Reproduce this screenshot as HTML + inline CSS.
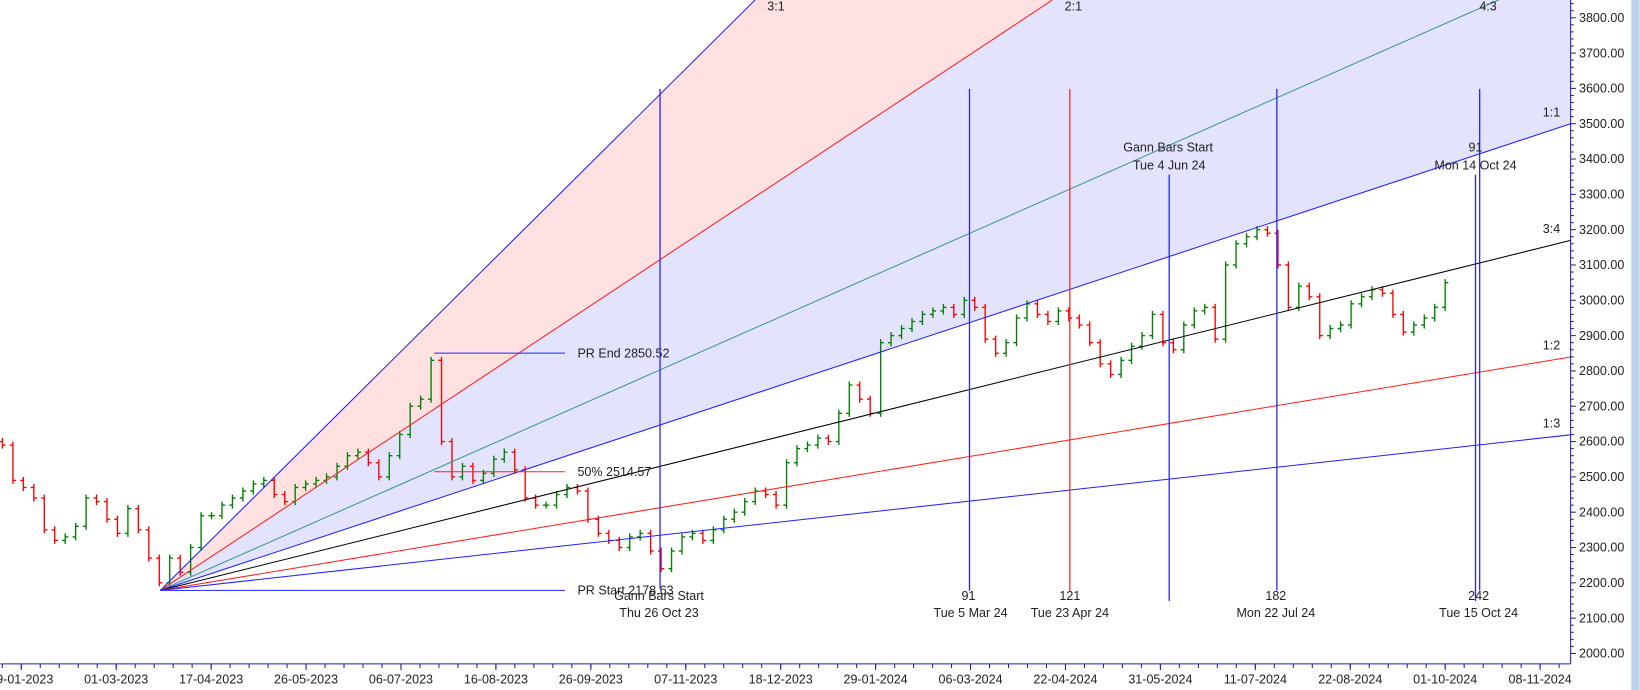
<!DOCTYPE html>
<html><head><meta charset="utf-8"><style>
html,body{margin:0;padding:0;background:#fff;}
svg{display:block;font-family:"Liberation Sans",sans-serif;}
</style></head><body>
<svg id="chart" width="1640" height="690" viewBox="0 0 1568 660" xmlns="http://www.w3.org/2000/svg">
<g id="fills"></g><g id="grid"></g><g id="bars"></g><g id="over"></g><g id="axes"></g>
</svg>
<script>
const closes=[2590,2490,2470,2440,2350,2320,2330,2360,2440,2430,2380,2340,2410,2350,2270,2200,2270,2230,2300,2390,2390,2420,2440,2460,2480,2490,2450,2430,2470,2480,2490,2500,2530,2560,2570,2540,2500,2560,2620,2700,2720,2830,2600,2500,2530,2490,2510,2550,2570,2520,2440,2420,2420,2450,2470,2460,2380,2340,2320,2300,2330,2340,2290,2240,2290,2330,2340,2320,2350,2380,2400,2430,2460,2450,2420,2540,2580,2590,2610,2600,2680,2760,2720,2680,2880,2900,2920,2940,2960,2970,2980,2960,3000,2980,2890,2850,2880,2950,2990,2960,2940,2970,2950,2930,2880,2820,2790,2830,2870,2900,2960,2880,2860,2930,2970,2980,2890,3100,3160,3180,3200,3190,3100,2980,3040,3010,2900,2920,2930,2990,3010,3030,3020,2960,2910,2930,2950,2980,3050];
const yTicks=[2000,2100,2200,2300,2400,2500,2600,2700,2800,2900,3000,3100,3200,3300,3400,3500,3600,3700,3800];
const dateLabels=["09-01-2023","01-03-2023","17-04-2023","26-05-2023","06-07-2023","16-08-2023","26-09-2023","07-11-2023","18-12-2023","29-01-2024","06-03-2024","22-04-2024","31-05-2024","11-07-2024","22-08-2024","01-10-2024","08-11-2024"];
const fanRatios=[3,2,4/3,1,0.75,0.5,1/3];
const fanNames=["3:1","2:1","4:3","1:1","3:4","1:2","1:3"];
const prStart=2178.63, prEnd=2850.52, prMid=2514.57;

const NS="http://www.w3.org/2000/svg";
const R=1502, B=635;
const yS=v=>17+(3800-v)*0.3378;
const xS=i=>2+i*10;
const dX=k=>20+k*90.8;
const ox=153, unit=(3500-prStart)/(R-ox);
function el(p,t,a){const e=document.createElementNS(NS,t);for(const k in a)e.setAttribute(k,a[k]);p.appendChild(e);return e;}
const G=id=>document.getElementById(id);
function txt(p,x,y,s,anchor,name){const t=el(p,'text',{x:x,y:y,'font-size':12,fill:'#222','text-anchor':anchor||'start'});t.textContent=s;return t;}
// fan geometry
function fanEnd(r){const topP=3800+17/0.3378;const xTop=ox+(topP-prStart)/(r*unit);if(xTop<=R)return [xTop,0];return [R,yS(prStart+r*unit*(R-ox))];}
const oy=yS(prStart);
const e3=fanEnd(3),e2=fanEnd(2),e1=fanEnd(1);
let p=el(G('fills'),'polygon',{points:`${ox},${oy} ${e3[0]},0 ${e2[0]},0`,fill:'#ffe1e1'});

p=el(G('fills'),'polygon',{points:`${ox},${oy} ${e2[0]},0 ${R},0 ${R},${e1[1]}`,fill:'#e3e3fd'});

// bars
closes.forEach((c,i)=>{const o=i?closes[i-1]:c+10;const up=c>=o;const col=up?'#008000':'#ff0000';const x=xS(i);
const hi=Math.max(o,c)+10,lo=Math.min(o,c)-10;
const g=el(G('bars'),'g',{stroke:col,'stroke-width':1.3});

el(g,'line',{x1:x,x2:x,y1:yS(hi),y2:yS(lo)});
el(g,'line',{x1:x-3,x2:x,y1:yS(o),y2:yS(o)});
el(g,'line',{x1:x,x2:x+3,y1:yS(c),y2:yS(c)});});
// fan lines
const fanCols=['#2020ff','#ff2020','#3a9a8a','#2020ff','#000','#ff2020','#2020ff'];
fanRatios.forEach((r,k)=>{const e=fanEnd(r);const l=el(G('over'),'line',{x1:ox,y1:oy,x2:e[0],y2:e[1],stroke:fanCols[k],'stroke-width':1});

if(e[0]<R)txt(G('over'),e[0]+(k==2?-10:20),10,fanNames[k],'middle','fan-label');else txt(G('over'),R-10,e[1]-7,fanNames[k],'end','fan-label');});
const O=G('over');
function hl(y,x1,x2,c,n){const l=el(O,'line',{x1:x1,x2:x2,y1:y,y2:y,stroke:c,'stroke-width':1});}
hl(oy,ox,540,'#2020ff','pr-start-line');txt(O,552,oy+4,'PR Start '+prStart,'start','pr-start-label');
hl(yS(prEnd),415,540,'#2020ff','pr-end-line');txt(O,552,yS(prEnd)+4,'PR End '+prEnd,'start','pr-end-label');
hl(yS(prMid),415,540,'#ff2020','mid-line');txt(O,552,yS(prMid)+4,'50% '+prMid,'start','mid-label');
function vl(x,y1,y2,c,n){const l=el(O,'line',{x1:x,x2:x,y1:y1,y2:y2,stroke:c,'stroke-width':1.2});}
vl(631,85,563,'#2020ff','gann-start-vline');txt(O,630,574,'Gann Bars Start','middle','vline-label');txt(O,630,590,'Thu 26 Oct 23','middle','vline-date');
vl(927,85,565,'#2020ff','vline-91');txt(O,926,574,'91','middle','vline-label');txt(O,928,590,'Tue 5 Mar 24','middle','vline-date');
vl(1023,85,565,'#ff2020','vline-121');txt(O,1023,574,'121','middle','vline-label');txt(O,1023,590,'Tue 23 Apr 24','middle','vline-date');
vl(1118,167,575,'#2020ff','gann-start-vline-2');txt(O,1117,145,'Gann Bars Start','middle','vline-label');txt(O,1118,162,'Tue 4 Jun 24','middle','vline-date');
vl(1221,85,565,'#2020ff','vline-182');txt(O,1220,574,'182','middle','vline-label');txt(O,1220,590,'Mon 22 Jul 24','middle','vline-date');
vl(1415,85,565,'#2020ff','vline-242');txt(O,1414,574,'242','middle','vline-label');txt(O,1414,590,'Tue 15 Oct 24','middle','vline-date');
vl(1411,167,575,'#2020ff','vline-91b');txt(O,1411,145,'91','middle','vline-label');txt(O,1411,162,'Mon 14 Oct 24','middle','vline-date');
// axes
const A=G('axes');
let r=el(A,'rect',{x:1560,y:0,width:8,height:660,fill:'#bcd3ec'});
let a=el(A,'line',{x1:R,x2:R,y1:0,y2:B,stroke:'#2020a0','stroke-width':1});
a=el(A,'line',{x1:0,x2:R,y1:B,y2:B,stroke:'#2020a0','stroke-width':1});
for(let v=2000;v<=3840;v+=20){el(A,'line',{x1:R,x2:R+(v%100==0?5:3),y1:yS(v),y2:yS(v),stroke:'#2020a0'});}
yTicks.forEach(v=>txt(A,R+8,yS(v)+4,v.toFixed(2),'start','y-tick-label'));
for(let x=dX(0)-90.8;x<R;x+=18.16){el(A,'line',{x1:x,x2:x,y1:B,y2:B+4,stroke:'#2020a0'});}
dateLabels.forEach((d,k)=>{el(A,'line',{x1:dX(k),x2:dX(k),y1:B,y2:B+6,stroke:'#2020a0'});txt(A,dX(k),654,d,'middle','x-tick-label');});
</script>
</body></html>
